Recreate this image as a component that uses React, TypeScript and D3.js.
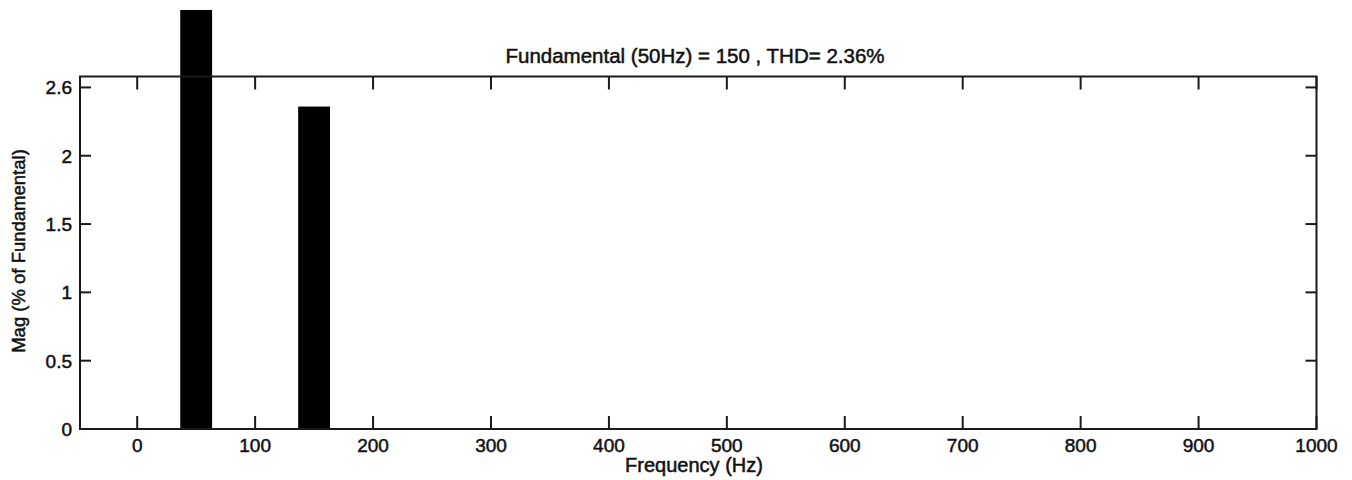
import React, { useEffect, useRef } from 'react';
import * as d3 from 'd3';

// harmonic spectrum (FFT analysis)
const harmonicFreqs = [50, 150];
const harmonicMags = [100, 2.36];
const xTicks = [0, 100, 200, 300, 400, 500, 600, 700, 800, 900, 1000];
const yTicks = [0, 0.5, 1, 1.5, 2, 2.5];
const yTickLabels = ['0', '0.5', '1', '1.5', '2', '2.6'];
const title = 'Fundamental (50Hz) = 150 , THD= 2.36%';
const xLabel = 'Frequency (Hz)';
const yLabel = 'Mag (% of Fundamental)';

const W = 1352, H = 480;
const font = '"Liberation Sans", Arial, Helvetica, sans-serif';

export default function App() {
    const ref = useRef<SVGSVGElement>(null);

    useEffect(() => {
        const svg = d3.select(ref.current);
        svg.selectAll('*').remove();

        let left = 80, right = 1316.5, top = 76.5, bottom = 429;
        const x = d3.scaleLinear().domain([-48.5, 1000]).range([left, right]);
        const y = d3.scaleLinear().domain([0, 2.58]).range([bottom, top]);
        const barW = x(27) - x(0);

        svg.append('rect').attr('width', W).attr('height', H).attr('fill', '#fff');

        // bars may rise above the axes box, cut at top of the figure
        svg.append('clipPath').attr('id', 'barclip')
            .append('rect').attr('x', left).attr('y', 10)
            .attr('width', right - left).attr('height', bottom - 10);

        svg.append('g').attr('clip-path', 'url(#barclip)')
            .selectAll('rect')
            .data(harmonicFreqs)
            .enter()
            .append('rect')
            .attr('x', d => x(d) - barW / 2)
            .attr('width', barW)
            .attr('y', (d, i) => y(harmonicMags[i]))
            .attr('height', (d, i) => bottom - y(harmonicMags[i]))
            .attr('fill', '#000');

        const axisColor = '#1a1a1a';
        // box
        svg.append('rect')
            .attr('x', left).attr('y', top)
            .attr('width', right - left).attr('height', bottom - top)
            .attr('fill', 'none').attr('stroke', axisColor).attr('stroke-width', 2);

        // heavier text, like the scanned figure
        const txt = (sel: any, size: string) => sel
            .style('font-family', font).style('font-size', size)
            .attr('fill', '#111').attr('stroke', '#111').attr('stroke-width', 0.5);

        // x ticks (inward, bottom and top)
        let g = svg.append('g');
        xTicks.forEach(t => {
            g.append('line').attr('x1', x(t)).attr('x2', x(t))
                .attr('y1', bottom).attr('y2', bottom - 13)
                .attr('stroke', axisColor).attr('stroke-width', 2);
            g.append('line').attr('x1', x(t)).attr('x2', x(t))
                .attr('y1', top).attr('y2', top + 13)
                .attr('stroke', axisColor).attr('stroke-width', 2);
            txt(g.append('text')
                .attr('x', x(t)).attr('y', bottom + 23)
                .attr('text-anchor', 'middle'), '19px')
                .text(d3.format('d')(t));
        });

        // y ticks (inward, left and right)
        yTicks.forEach((t, i) => {
            g.append('line').attr('x1', left).attr('x2', left + 11)
                .attr('y1', y(t)).attr('y2', y(t))
                .attr('stroke', axisColor).attr('stroke-width', 2);
            g.append('line').attr('x1', right).attr('x2', right - 11)
                .attr('y1', y(t)).attr('y2', y(t))
                .attr('stroke', axisColor).attr('stroke-width', 2);
            txt(g.append('text')
                .attr('x', left - 8).attr('y', y(t) + 7)
                .attr('text-anchor', 'end'), '19px')
                .text(yTickLabels[i]);
        });

        txt(svg.append('text')
            .attr('x', 695).attr('y', 63)
            .attr('text-anchor', 'middle'), '20.5px')
            .text(title);

        txt(svg.append('text')
            .attr('x', 694).attr('y', 472)
            .attr('text-anchor', 'middle'), '20px')
            .text(xLabel);

        txt(svg.append('text')
            .attr('transform', 'translate(25,251) rotate(-90)')
            .attr('text-anchor', 'middle'), '18.5px')
            .text(yLabel);
    }, []);

    return <svg ref={ref} width={W} height={H}
                style={{ position: 'absolute', left: 0, top: 0, display: 'block' }} />;
}
